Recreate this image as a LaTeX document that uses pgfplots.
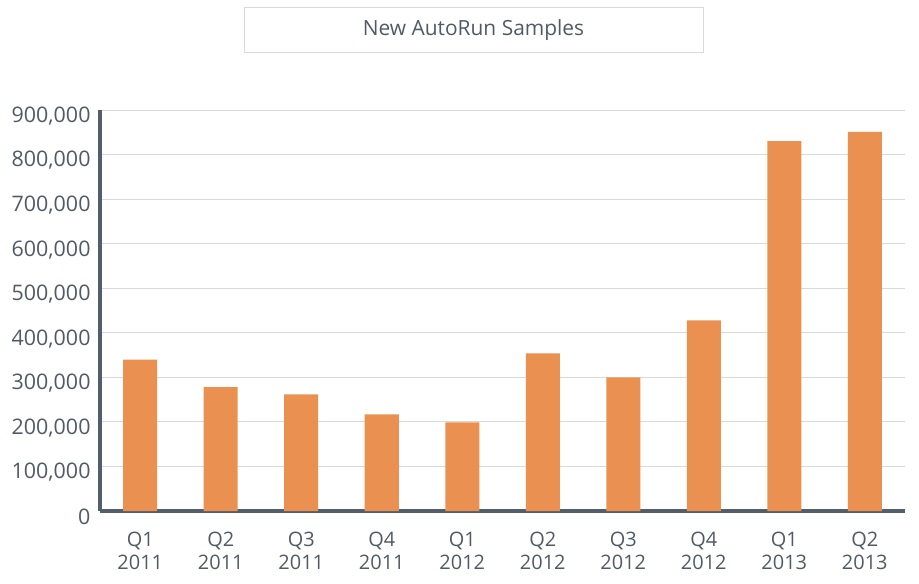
\documentclass[border=0pt]{standalone}
\usepackage{fontspec}
\setmainfont{Open Sans}
\usepackage{pgfplots}
\pgfplotsset{compat=1.18}
\definecolor{barorange}{RGB}{234,145,82}
\definecolor{axisgray}{RGB}{82,95,107}
\definecolor{txtgray}{RGB}{80,90,102}
\definecolor{gridgray}{RGB}{217,217,217}
\begin{document}
\begin{tikzpicture}
\begin{axis}[
  name=ax,
  scale only axis,
  width=805bp, height=401bp,
  xmin=-0.5, xmax=9.5,
  ymin=0, ymax=900000,
  ybar, bar width=34bp,
  xtick=data,
  xticklabels={{Q1\\2011},{Q2\\2011},{Q3\\2011},{Q4\\2011},{Q1\\2012},{Q2\\2012},{Q3\\2012},{Q4\\2012},{Q1\\2013},{Q2\\2013}},
  xticklabel style={align=center, font=\fontsize{20}{23}\selectfont, text=txtgray, yshift=-18bp},
  ytick={0,100000,...,900000},
  yticklabel style={font=\fontsize{21.5}{24}\selectfont, text=txtgray, xshift=-6bp, yshift=-6bp},
  scaled y ticks=false,
  /pgf/number format/.cd, fixed, 1000 sep={,}, assume math mode=true,
  /pgfplots/.cd,
  axis x line*=bottom, axis y line*=left,
  axis line style={draw=axisgray, line width=3.8bp, -},
  major tick length=0pt,
  ymajorgrids, grid style={draw=gridgray, line width=0.9bp},
  axis on top=false,
  clip=false,
]
\addplot[fill=barorange, draw=none] coordinates {
 (0,340000) (1,278000) (2,262000) (3,217000) (4,199000)
 (5,354000) (6,300000) (7,428000) (8,830000) (9,851000)};
\end{axis}
\node[draw=gridgray, line width=1bp, minimum width=459bp, minimum height=45bp, inner sep=0pt,
      font=\fontsize{21}{24}\selectfont, text=txtgray]
  at ([shift={(373.5bp,480.5bp)}]ax.south west) {New AutoRun Samples};
\path ([shift={(-100bp,-73bp)}]ax.south west) rectangle ([shift={(819bp,511bp)}]ax.south west);
\end{tikzpicture}
\end{document}
